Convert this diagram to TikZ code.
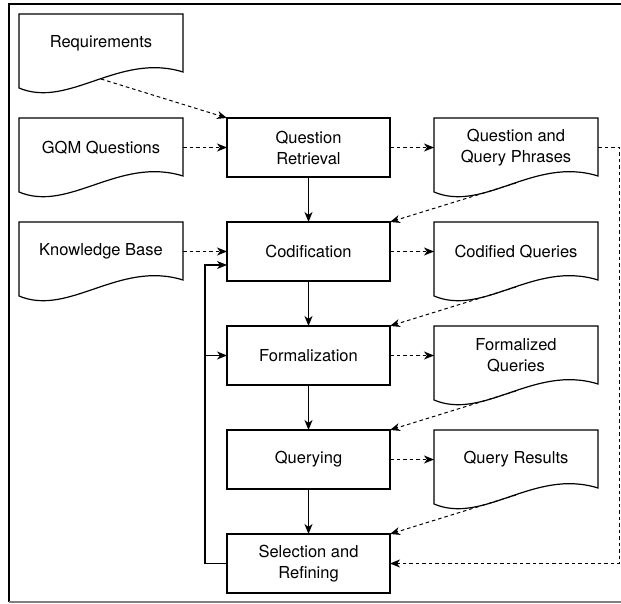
\documentclass[tikz,border=0pt]{standalone}
\usepackage{fontspec}
\setmainfont{TeX Gyre Heros}
\usetikzlibrary{arrows.meta}
\newcommand\docoutline[1]{\draw[line width=1.2pt] (#1.north west) -- (#1.north east) -- ([yshift=-58pt]#1.north east) .. controls ([xshift=100pt,yshift=-38pt]#1.north west) and ([xshift=50pt,yshift=-95pt]#1.north west) .. ([yshift=-74pt]#1.north west) -- cycle;
\coordinate (#1-b) at ([xshift=82pt,yshift=-65pt]#1.north west);}
\begin{document}
\begin{tikzpicture}[x=1pt,y=-1pt,
  every node/.style={font=\fontsize{16.5}{21}\selectfont, align=center, inner sep=0pt, outer sep=0pt},
  proc/.style={draw, line width=1.2pt, minimum width=163pt, minimum height=59pt},
  docnode/.style={minimum width=164pt, minimum height=59pt},
  flow/.style={line width=1.2pt, -{Stealth[length=10pt,width=8pt,inset=3pt]}},
  dflow/.style={flow, line width=1pt, dash pattern=on 3.5pt off 3pt},
]
\useasboundingbox (0,0) rectangle (621,604);
% frame
\draw[line width=1.2pt] (640,4) -- (9,4) -- (9,602);
\draw[gray, line width=1.5pt] (9,602) -- (640,602);

% nodes
\node[docnode] (req) at (101,43.5) {Requirements};
\node[docnode] (gqm) at (101,147.5) {GQM Questions};
\node[docnode] (kb) at (101,251.5) {Knowledge Base};
\node[proc] (qr) at (308.5,147.5) {Question\\Retrieval};
\node[proc] (cod) at (308.5,251.5) {Codification};
\node[proc] (form) at (308.5,355.5) {Formalization};
\node[proc] (qry) at (308.5,459.5) {Querying};
\node[proc] (sel) at (308.5,563.5) {Selection and\\Refining};
\node[docnode] (qqp) at (516,147.5) {Question and\\Query Phrases};
\node[docnode] (cq) at (516,251.5) {Codified Queries};
\node[docnode] (fq) at (516,355.5) {Formalized\\Queries};
\node[docnode] (qres) at (516,459.5) {Query Results};

\docoutline{req}
\docoutline{gqm}
\docoutline{kb}
\docoutline{qqp}
\docoutline{cq}
\docoutline{fq}
\docoutline{qres}

% dashed connectors
\draw[dflow] (req-b) -- (qr.north west);
\draw[dflow] (gqm.east) -- (qr.west);
\draw[dflow] (kb.east) -- (cod.west);
\draw[dflow] (qr.east) -- (qqp.west);
\draw[dflow] (cod.east) -- (cq.west);
\draw[dflow] (form.east) -- (fq.west);
\draw[dflow] (qry.east) -- (qres.west);
\draw[dflow] (qqp-b) -- (cod.north east);
\draw[dflow] (cq-b) -- (form.north east);
\draw[dflow] (fq-b) -- (qry.north east);
\draw[dflow] (qres-b) -- (sel.north east);
\coordinate (rb) at (619,563.5);
\draw[dflow] (qqp.east) -| (rb) -- (sel.east);

% solid connectors
\draw[flow] (qr.south) -- (cod.north);
\draw[flow] (cod.south) -- (form.north);
\draw[flow] (form.south) -- (qry.north);
\draw[flow] (qry.south) -- (sel.north);
\coordinate (lb) at (205,563.5);
\coordinate (lt) at (205,265);
\draw[flow] (sel.west) -- (lb) -- (lt) -- (cod.west |- lt);
\draw[flow] (lb |- form.west) -- (form.west);
\end{tikzpicture}
\end{document}
